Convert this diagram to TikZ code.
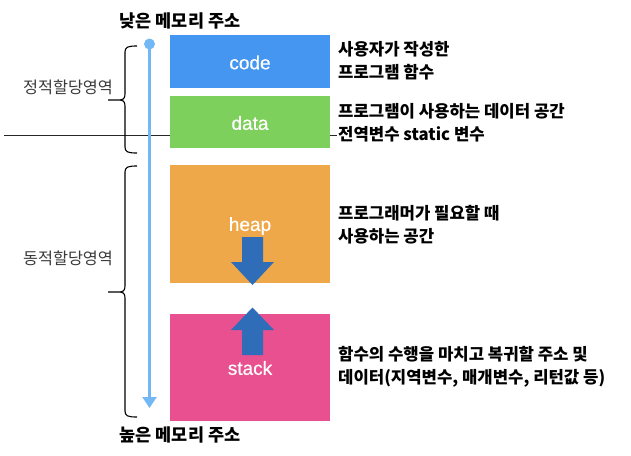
\documentclass[tikz,border=0pt]{standalone}
\usepackage{fontspec}
\setmainfont{Noto Sans CJK KR}
\newfontfamily\latfont[UprightFeatures={FakeBold=0.5}]{Liberation Sans}
\usetikzlibrary{arrows.meta}
\definecolor{codec}{HTML}{4596F0}
\definecolor{datac}{HTML}{7DD05C}
\definecolor{heapc}{HTML}{EEA849}
\definecolor{stackc}{HTML}{E8508F}
\definecolor{fatc}{HTML}{2F6DB8}
\definecolor{linec}{HTML}{72B8F4}
\definecolor{graytxt}{HTML}{3A3A3A}
\tikzset{
  segbox/.style={draw=none, inner sep=0pt, minimum width=160pt, text=white,
    font=\latfont\fontsize{19}{22}\selectfont},
  desc/.style={anchor=west, align=left, inner sep=0pt,
    font=\bfseries\fontsize{16.7}{22.7}\selectfont},
  addr/.style={inner sep=0pt, font=\bfseries\fontsize{17.5}{20}\selectfont},
  region/.style={inner sep=0pt, text=graytxt, font=\fontsize{16.3}{19}\selectfont},
  bracestyle/.style={draw=black, line width=1.1pt},
  fatarrow/.style={fill=fatc, draw=none}
}
\begin{document}
\begin{tikzpicture}[x=1pt,y=-1pt]
\useasboundingbox (0,0) rectangle (631,455);
% horizontal line behind the boxes
\coordinate (hl1) at (4,135);
\coordinate (hl2) at (337,135);
\draw[line width=0.9pt, black!85] (hl1) -- (hl2);
% segment boxes
\node[segbox, fill=codec, minimum height=53pt] (code) at (250,61.5) {};
\node[segbox, fill=datac, minimum height=52pt] (data) at (250,122) {};
\node[segbox, fill=heapc, minimum height=118pt] (heap) at (250,224) {};
\node[segbox, fill=stackc, minimum height=107pt] (stack) at (250,367.5) {};
\node[segbox, minimum height=0pt] (codelbl) at (250,62.5) {code};
\node[segbox, minimum height=0pt] (datalbl) at (250,123) {data};
\node[segbox, minimum height=0pt] (heaplbl) at (250,226) {heap};
\node[segbox, minimum height=0pt] (stacklbl) at (250,368) {stack};
% fat arrows
\fill[fatarrow] (242,237) -- (263,237) -- (263,262) -- (274,262) -- (252.5,285)
  -- (231,262) -- (242,262) -- cycle;
\fill[fatarrow] (242,355) -- (263,355) -- (263,330) -- (274,330) -- (252.5,307.5)
  -- (231,330) -- (242,330) -- cycle;
% address line
\coordinate (lt) at (149.5,44);
\coordinate (lb) at (149.5,408);
\draw[linec, line width=2.4pt, -{Triangle[width=14pt,length=11pt]}] (lt) -- (lb);
\fill[linec] (lt) circle (5.5pt);
% address labels
\node[addr] (low) at (180,21) {낮은 메모리 주소};
\node[addr] (high) at (180,435) {높은 메모리 주소};
% braces
\draw[bracestyle] (137,46) .. controls (128,46) and (125,47) .. (125,52) -- (125,94)
  .. controls (125,99) and (123,100) .. (118,100) -- (108,100)
  (118,100) .. controls (123,100) and (125,101) .. (125,106) -- (125,147)
  .. controls (125,152) and (128,153) .. (137,153);
\draw[bracestyle] (137,166) .. controls (128,166) and (125,167) .. (125,172) -- (125,286)
  .. controls (125,291) and (123,292) .. (118,292) -- (108,292)
  (118,292) .. controls (123,292) and (125,293) .. (125,298) -- (125,411)
  .. controls (125,416) and (128,417) .. (137,417);
\node[region] (static) at (68,87) {정적할당영역};
\node[region] (dynamic) at (68,258) {동적할당영역};
% descriptions
\node[desc] (dcode) at (338,61) {사용자가 작성한\\프로그램 함수};
\node[desc] (ddata) at (338,123) {프로그램이 사용하는 데이터 공간\\전역변수 static 변수};
\node[desc] (dheap) at (338,224.5) {프로그래머가 필요할 때\\사용하는 공간};
\node[desc] (dstack) at (338,367) {함수의 수행을 마치고 복귀할 주소 및\\데이터(지역변수, 매개변수, 리턴값 등)};
\end{tikzpicture}
\end{document}
